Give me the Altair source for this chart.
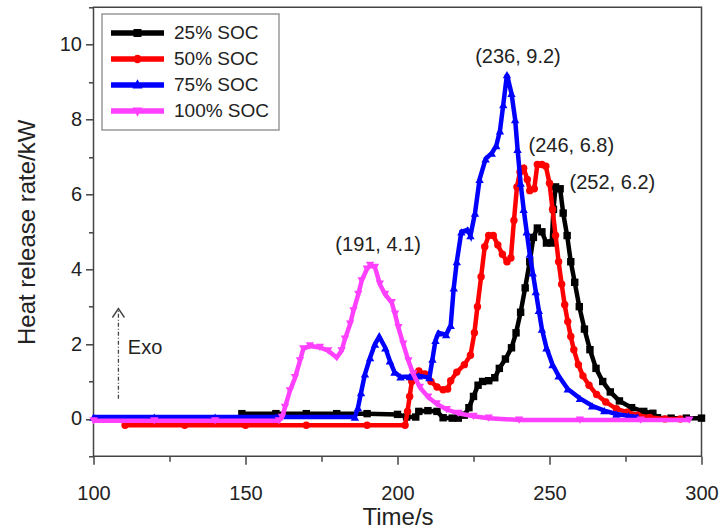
import altair as alt
import pandas as pd

# Series names, colours and marker shapes
SERIES = ["25% SOC", "50% SOC", "75% SOC", "100% SOC"]
COLORS = ["#000000", "#ff0000", "#0000ff", "#ff40ff"]
MARKERS = ["square", "circle", "triangle-up", "triangle-down"]
MARKER_SIZES = [55, 55, 70, 70]

# Heat release rate (kW) against time (s)
T25 = [148.8, 160, 170, 180, 190, 200, 203, 206, 207, 210, 213, 215, 218, 220, 222,
       223.5, 225, 226.5, 228, 230, 232, 233.5, 235.5, 237.5, 239, 240.5, 242, 243.5,
       244.7, 246, 247.5, 249, 250.7, 251.3, 252, 253.5, 254.5, 255.8, 257, 258.3,
       259.8, 261.5, 263.3, 265.3, 267.5, 270, 273, 277, 281, 284, 285.5, 290, 295, 300]
V25 = [0.14, 0.14, 0.14, 0.14, 0.14, 0.12, 0.05, 0.05, 0.2, 0.22, 0.2, 0.03, 0.02, 0.02, 0.1,
       0.3, 0.6, 0.9, 1.0, 1.02, 1.1, 1.35, 1.6, 1.9, 2.3, 2.85, 3.5, 4.2,
       4.85, 5.1, 5.0, 4.7, 4.7, 5.6, 6.2, 6.15, 5.5, 4.9, 4.2, 3.65,
       3.0, 2.4, 1.85, 1.35, 1.0, 0.72, 0.48, 0.3, 0.2, 0.15, 0.03, 0.02, 0.02, 0.02]

T50 = [110.4, 130, 150, 170, 190, 202.5, 203.3, 204, 204.7, 205.5, 207, 209, 211, 213, 215,
       216.5, 217.5, 219.5, 222, 224, 225.3, 226.3, 227.5, 228.7, 230, 231.5, 233, 234.5,
       236, 237.3, 238.3, 239.3, 240.3, 241.5, 242.7, 243.5, 245, 246, 247.5, 248.8, 250,
       251, 252, 253, 254, 255, 256, 257, 258, 259.5, 261, 263, 265.5, 268.5, 272, 275.5,
       279, 283, 288, 293]
V50 = [-0.17, -0.17, -0.17, -0.17, -0.17, -0.17, 0.2, 0.6, 1.0, 1.2, 1.28, 1.2, 1.0, 0.85, 0.78,
       0.8, 1.02, 1.25, 1.45, 1.7, 2.3, 3.0, 3.8, 4.6, 4.9, 4.9, 4.65, 4.4,
       4.2, 4.3, 5.3, 6.2, 6.6, 6.7, 6.4, 6.1, 6.15, 6.8, 6.8, 6.75, 6.3,
       5.6, 4.9, 4.2, 3.6, 3.05, 2.6, 2.2, 1.85, 1.45, 1.15, 0.9, 0.65, 0.45, 0.27, 0.18,
       0.1, 0.04, 0.0, 0.0]

T75 = [100, 120, 140, 160, 186, 187, 188, 189.3, 191, 192.6, 194, 196, 197.5, 199, 201,
       204, 207, 210.5, 211.5, 212.5, 213.5, 216, 217.5, 218.5, 219.5, 221, 223, 224,
       225.5, 227, 229, 231, 232.5, 233.7, 234.8, 236, 237.5, 238.7, 239.5, 240.5, 241.5,
       242.5, 243.5, 244.5, 245.5, 246.5, 247.5, 249, 251, 253, 256, 260, 264, 268, 272,
       276, 279]
V75 = [0.05, 0.05, 0.05, 0.05, 0.05, 0.3, 0.7, 1.2, 1.64, 2.0, 2.2, 1.9, 1.55, 1.25, 1.12,
       1.13, 1.15, 1.1, 1.6, 2.1, 2.3, 2.25, 2.5, 3.5, 4.2, 5.0, 5.05, 4.9,
       5.5, 6.4, 6.95, 7.1, 7.3, 7.7, 8.4, 9.2, 8.7, 8.0, 7.2, 6.3, 5.6,
       5.0, 4.4, 3.9, 3.4, 2.9, 2.4, 1.9, 1.45, 1.15, 0.8, 0.55, 0.35, 0.22, 0.13,
       0.08, 0.05]

T100 = [100, 120, 140, 161, 162, 163, 164.6, 166.3, 167.9, 169, 171.2, 174.5, 177.2, 180,
        181.6, 182.7, 184.4, 185.5, 187.1, 188.2, 189.9, 191, 192.6, 194.2, 195.9, 198.1,
        199.2, 200.3, 201.9, 203.6, 205.2, 207.4, 210.1, 212.9, 216.2, 220, 225, 230, 240,
        260, 280, 296]
V100 = [-0.05, -0.05, -0.05, -0.05, 0.04, 0.31, 0.75, 1.1, 1.55, 1.87, 1.95, 1.91, 1.82, 1.64,
        1.82, 2.13, 2.53, 2.89, 3.33, 3.69, 4.0, 4.1, 4.05, 3.6, 3.33, 3.11,
        2.8, 2.44, 2.0, 1.55, 1.2, 0.84, 0.58, 0.4, 0.25, 0.15, 0.07, 0.02, -0.03,
        -0.03, -0.03, -0.03]

# Labelled peaks (time, rate) for 75%, 50%, 25% and 100% SOC
PEAK_T = [236, 246, 252, 191]
PEAK_V = [9.2, 6.8, 6.2, 4.1]
PEAK_DX = [11, 34, 14, 8]
PEAK_DY = [-18, -18, -4, -20]
PEAK_ALIGN = ["center", "center", "left", "center"]

# "Exo" direction arrow (time, rate)
ARROW_T = 108.2
ARROW_V0 = 0.54
ARROW_V1 = 2.95
EXO_T = 111.3
EXO_V = 1.9

FONT = "Liberation Sans"
TEXT = "#222222"

ALL_T = [T25, T50, T75, T100]
ALL_V = [V25, V50, V75, V100]

df = pd.concat(
    [pd.DataFrame({"series": s, "t": ts, "v": vs}) for s, ts, vs in zip(SERIES, ALL_T, ALL_V)],
    ignore_index=True,
)

x_enc = alt.X(
    "t:Q",
    title="Time/s",
    scale=alt.Scale(domain=[100, 300], nice=False, zero=False),
    axis=alt.Axis(
        values=list(range(100, 301, 25)),
        labelExpr="datum.value % 50 === 0 ? datum.label : ''",
        tickSize={"condition": {"test": "datum.value % 50 === 0", "value": 8}, "value": 5},
        labelFlush=False,
        labelPadding=19,
        titlePadding=2,
    ),
)
y_enc = alt.Y(
    "v:Q",
    title="Heat release rate/kW",
    scale=alt.Scale(domain=[-1, 11], nice=False, zero=False),
    axis=alt.Axis(
        values=list(range(-1, 12)),
        labelExpr="datum.value % 2 === 0 ? datum.label : ''",
        tickSize={"condition": {"test": "datum.value % 2 === 0", "value": 8}, "value": 5},
        labelPadding=4,
        titlePadding=20,
    ),
)

# Legend symbols: a bar with the series marker in the middle
BAR = "M-1,-0.1H1V0.1H-1Z"
LEGEND_PATHS = [
    BAR + "M-0.15,-0.15H0.15V0.15H-0.15Z",
    BAR + "M0.16,0A0.16,0.16,0,1,1,-0.16,0A0.16,0.16,0,1,1,0.16,0Z",
    BAR + "M0,-0.22L0.19,0.13H-0.19Z",
    BAR + "M0,0.22L-0.19,-0.13H0.19Z",
]
legend = alt.Legend(
    title=None,
    orient="none",
    legendX=8.5,
    legendY=6.7,
    padding=9,
    fillColor="white",
    strokeColor="#999999",
    labelFont=FONT,
    labelFontSize=19,
    labelColor=TEXT,
    labelOffset=10,
    symbolSize=2809,
    symbolStrokeWidth=0,
    symbolOpacity=1,
    clipHeight=20,
    rowPadding=6,
)
legend_layer = alt.Chart(df).mark_point(filled=True, opacity=0, size=10).encode(
    x=x_enc,
    y=y_enc,
    color=alt.Color("series:N", scale=alt.Scale(domain=SERIES, range=COLORS), legend=legend),
    shape=alt.Shape("series:N", scale=alt.Scale(domain=SERIES, range=LEGEND_PATHS), legend=legend),
)

layers = [legend_layer]
for s, c, m, ms in zip(SERIES, COLORS, MARKERS, MARKER_SIZES):
    part = df[df["series"] == s]
    base = alt.Chart(part).encode(x=x_enc, y=y_enc)
    layers.append(base.mark_line(color=c, strokeWidth=4.5))
    layers.append(base.mark_point(filled=True, shape=m, size=ms, color=c, opacity=1, strokeWidth=0))

# Peak annotations
for t, v, dx, dy, al in zip(PEAK_T, PEAK_V, PEAK_DX, PEAK_DY, PEAK_ALIGN):
    lab = pd.DataFrame({"t": [t], "v": [v], "label": [f"({t}, {v})"]})
    layers.append(
        alt.Chart(lab).mark_text(
            font=FONT, fontSize=20, color=TEXT, dx=dx, dy=dy, align=al, baseline="middle"
        ).encode(x=x_enc, y=y_enc, text="label:N")
    )

# Exo arrow
arrow = pd.DataFrame({"t": [ARROW_T], "v": [ARROW_V0], "v2": [ARROW_V1]})
layers.append(
    alt.Chart(arrow).mark_rule(color="#444444", strokeWidth=1.3, strokeDash=[4, 2, 1, 2]).encode(
        x=x_enc, y=y_enc, y2="v2:Q"
    )
)
head = pd.DataFrame({"t": [ARROW_T], "v": [ARROW_V1]})
layers.append(
    alt.Chart(head).mark_point(
        shape="M-1,1.5L0,0L1,1.5", size=144, filled=False, color="#444444", strokeWidth=1.4, opacity=1
    ).encode(x=x_enc, y=y_enc)
)
exo = pd.DataFrame({"t": [EXO_T], "v": [EXO_V], "label": ["Exo"]})
layers.append(
    alt.Chart(exo).mark_text(font=FONT, fontSize=20, color=TEXT, align="left", baseline="middle").encode(
        x=x_enc, y=y_enc, text="label:N"
    )
)

chart = (
    alt.layer(*layers)
    .properties(
        width=608,
        height=449,
        padding={"left": 93.5, "top": 7.3, "right": 18.5, "bottom": 72.7},
        autosize=alt.AutoSizeParams(type="none"),
        background="white",
    )
    .configure_view(stroke="#444444", strokeWidth=1.5)
    .configure_axis(
        labelFont=FONT,
        labelFontSize=20,
        labelColor=TEXT,
        titleFont=FONT,
        titleFontSize=24,
        titleColor=TEXT,
        titleFontWeight="normal",
        tickColor="#444444",
        tickWidth=1.5,
        domain=False,
        grid=False,
    )
    .configure_legend(strokeWidth=1.5)
)

chart.save("out.html", embed_options={"renderer": "svg", "actions": False})
